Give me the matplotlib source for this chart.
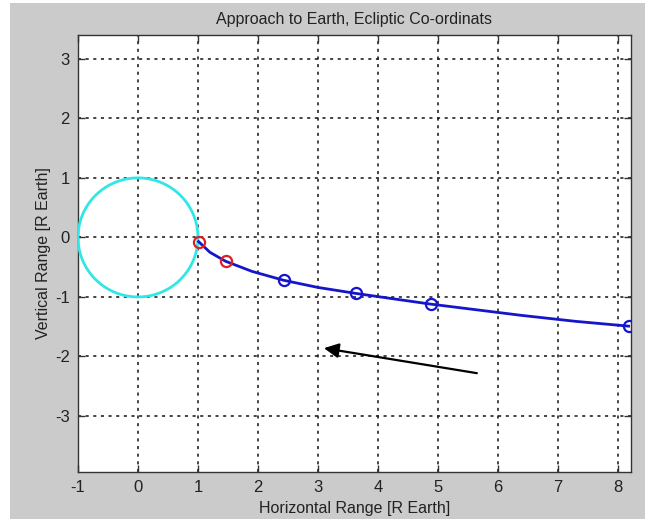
import numpy as np
import matplotlib
matplotlib.use("Agg")
import matplotlib.pyplot as plt
from matplotlib.patches import Rectangle

# Data
earth_radius = 1.0
traj_x = [1.01, 1.2, 1.46, 1.9, 2.43, 3.0, 3.63, 4.25, 4.88, 5.6, 6.4, 7.3, 8.18]
traj_y = [-0.07, -0.25, -0.40, -0.57, -0.72, -0.84, -0.94, -1.03, -1.12, -1.21, -1.31, -1.41, -1.49]
red_x = [1.01, 1.46]
red_y = [-0.07, -0.40]
blue_x = [2.43, 3.63, 4.88, 8.18]
blue_y = [-0.72, -0.94, -1.12, -1.49]
arrow_start = (5.65, -2.28)
arrow_end = (3.10, -1.86)
xticks = [-1, 0, 1, 2, 3, 4, 5, 6, 7, 8]
yticks = [-3, -2, -1, 0, 1, 2, 3]

plt.rcParams['font.family'] = ['Liberation Sans', 'DejaVu Sans']

W, H = 652, 519
fig = plt.figure(figsize=(W / 100, H / 100), dpi=100, facecolor='white')
fig.patches.append(Rectangle((10 / W, 0), (645 - 10) / W, (H - 3) / H,
                             transform=fig.transFigure, facecolor='#cbcbcb',
                             edgecolor='none', zorder=-10))

ax = fig.add_axes([78 / W, 1 - 472 / H, (631 - 78) / W, (472 - 35) / H])
ax.set_facecolor('white')

t = np.linspace(0, 2 * np.pi, 200)
ax.plot(earth_radius * np.cos(t), earth_radius * np.sin(t), color='#33e6e6', lw=2.0, zorder=3)
ax.plot(traj_x, traj_y, color='#1515cc', lw=2.0, zorder=4)
ax.plot(red_x, red_y, 'o', mfc='none', mec='#e02020', ms=8, mew=1.6, zorder=5)
ax.plot(blue_x, blue_y, 'o', mfc='none', mec='#1515cc', ms=8, mew=1.6, zorder=5)
ax.annotate('', xy=arrow_end, xytext=arrow_start,
            arrowprops=dict(arrowstyle='-|>', color='black', lw=1.6,
                            mutation_scale=22, shrinkA=0, shrinkB=0), zorder=6)

ax.set_xlim(-1, 8.22)
ax.set_ylim(-3.94, 3.40)
ax.set_xticks(xticks)
ax.set_yticks(yticks)
ax.set_xticklabels([str(v) for v in xticks])
ax.set_yticklabels([str(v) for v in yticks])
ax.grid(True, color='#111111', linestyle=(0, (2, 3)), lw=1.1)
ax.set_axisbelow(True)
ax.tick_params(direction='in', length=5, width=1, top=True, right=True,
               labelsize=12, colors='#333333', labelcolor='#222222', pad=6)
for s in ax.spines.values():
    s.set_color('#333333')
    s.set_linewidth(1.0)

ax.set_title('Approach to Earth, Ecliptic Co-ordinats', fontsize=11.5, color='#222222', pad=8)
ax.set_xlabel('Horizontal Range [R Earth]', fontsize=11.5, color='#222222', labelpad=4)
ax.set_ylabel('Vertical Range [R Earth]', fontsize=11.5, color='#222222', labelpad=3)

fig.savefig('out.png', dpi=100, facecolor=fig.get_facecolor())
